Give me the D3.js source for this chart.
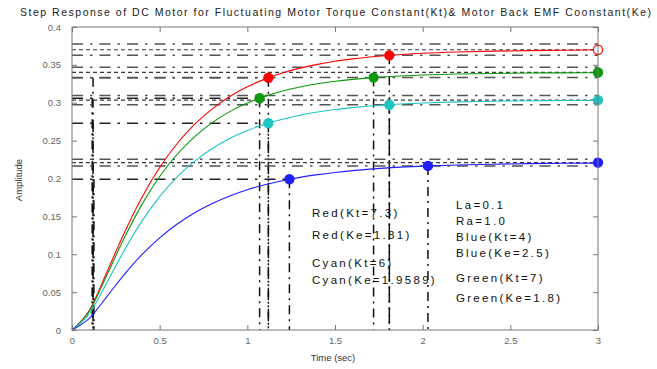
<!DOCTYPE html>
<html>
<head>
<meta charset="utf-8">
<script src="https://cdn.jsdelivr.net/npm/d3@7"></script>
<style>
  body { margin: 0; background: #fff; }
  text { font-family: "Liberation Sans", Arial, sans-serif; }
</style>
</head>
<body>
<div id="chart"></div>
<script>
// time samples (sec) and step response of each motor setting
var time = [0, 0.1, 0.2, 0.3, 0.4, 0.5, 0.6, 0.7, 0.8, 0.9, 1.0, 1.1, 1.2, 1.3, 1.4, 1.5,
  1.6, 1.7, 1.8, 1.9, 2.0, 2.2, 2.4, 2.6, 2.8, 3.0];
var redResp = [0, 0.0265, 0.0769, 0.1291, 0.1756, 0.2145, 0.2462, 0.2717, 0.2920, 0.3082, 0.3210,
  0.3312, 0.3393, 0.3457, 0.3507, 0.3548, 0.3579, 0.3604, 0.3624, 0.3640, 0.3653, 0.3670, 0.3681,
  0.3688, 0.3693, 0.3697];
var greenResp = [0, 0.0251, 0.0730, 0.1224, 0.1662, 0.2026, 0.2320, 0.2554, 0.2738, 0.2883, 0.2996,
  0.3084, 0.3154, 0.3208, 0.3250, 0.3283, 0.3309, 0.3329, 0.3344, 0.3357, 0.3366, 0.3379, 0.3387,
  0.3392, 0.3395, 0.3397];
var cyanResp = [0, 0.0218, 0.0631, 0.1059, 0.1440, 0.1760, 0.2020, 0.2229, 0.2396, 0.2528, 0.2633,
  0.2717, 0.2783, 0.2836, 0.2877, 0.2910, 0.2936, 0.2957, 0.2973, 0.2986, 0.2996, 0.3011, 0.3020,
  0.3026, 0.3029, 0.3031];
var blueResp = [0, 0.0156, 0.0445, 0.0738, 0.0998, 0.1217, 0.1399, 0.1548, 0.1670, 0.1770, 0.1851,
  0.1917, 0.1971, 0.2015, 0.2051, 0.2080, 0.2104, 0.2124, 0.2140, 0.2153, 0.2163, 0.2179, 0.2189,
  0.2196, 0.2201, 0.2204];

// characteristics, in order red, green, cyan, blue
var seriesNames = ["red", "green", "cyan", "blue"];
var finalValue = [0.370, 0.340, 0.3035, 0.221];
var bandHigh = [0.3774, 0.3468, 0.3096, 0.2254];
var startTime = [0.12, 0.115, 0.12, 0.125];
var riseTime = [1.12, 1.07, 1.12, 1.24];
var riseValue = [0.333, 0.306, 0.273, 0.199];
var settleTime = [1.81, 1.72, 1.81, 2.03];
var settleValue = [0.3626, 0.3332, 0.2974, 0.2166];

var xTicks = [0, 0.5, 1, 1.5, 2, 2.5, 3];
var xTickLabels = ["0", "0.5", "1", "1.5", "2", "2.5", "3"];
var yTicks = [0, 0.05, 0.1, 0.15, 0.2, 0.25, 0.3, 0.35, 0.4];
var yTickLabels = ["0", "0.05", "0.1", "0.15", "0.2", "0.25", "0.3", "0.35", "0.4"];

var notesLeft = ["Red(Kt=7.3)", "Red(Ke=1.81)", "Cyan(Kt=6)", "Cyan(Ke=1.9589)"];
var notesRight = ["La=0.1", "Ra=1.0", "Blue(Kt=4)", "Blue(Ke=2.5)", "Green(Kt=7)", "Green(Ke=1.8)"];

var colors = {red: "#ff0000", green: "#0a9a0a", cyan: "#1ec4c4", blue: "#1f1fff"};

var svgWidth = 657, svgHeight = 369;
var margin = {top: 27, right: 59, bottom: 39, left: 72};
var width = svgWidth - margin.left - margin.right;
var height = svgHeight - margin.top - margin.bottom;

var svg = d3.select("#chart").append("svg")
  .attr("width", svgWidth)
  .attr("height", svgHeight);

var g = svg.append("g")
  .attr("transform", "translate(" + margin.left + "," + margin.top + ")");

var x = d3.scaleLinear().domain([0, 3]).range([0, width]);
var y = d3.scaleLinear().domain([0, 0.4]).range([height, 0]);

// characteristic lines
var lines = g.append("g").attr("fill", "none");
var dashDot = "11,7,2.5,7";

seriesNames.forEach(function(name, i) {
  // settling band and steady state across full width
  [bandHigh[i], settleValue[i]].forEach(function(v) {
    lines.append("line")
      .attr("x1", x(0)).attr("x2", x(3))
      .attr("y1", y(v)).attr("y2", y(v))
      .attr("stroke", "#555").attr("stroke-width", 1.5)
      .attr("stroke-dasharray", dashDot);
  });
  lines.append("line")
    .attr("x1", x(0)).attr("x2", x(3))
    .attr("y1", y(finalValue[i])).attr("y2", y(finalValue[i]))
    .attr("stroke", "#3a3a3a").attr("stroke-width", 1.2)
    .attr("stroke-dasharray", "4,3");

  // rise time
  lines.append("line")
    .attr("x1", x(0)).attr("x2", x(riseTime[i]))
    .attr("y1", y(riseValue[i])).attr("y2", y(riseValue[i]))
    .attr("stroke", "#222").attr("stroke-width", 1.4)
    .attr("stroke-dasharray", dashDot);
  [startTime[i], riseTime[i]].forEach(function(t) {
    lines.append("line")
      .attr("x1", x(t)).attr("x2", x(t))
      .attr("y1", y(riseValue[i])).attr("y2", y(0))
      .attr("stroke", "#111").attr("stroke-width", 1.5)
      .attr("stroke-dasharray", "9,5,2,5");
  });

  // settling time
  lines.append("line")
    .attr("x1", x(settleTime[i])).attr("x2", x(settleTime[i]))
    .attr("y1", y(settleValue[i])).attr("y2", y(0))
    .attr("stroke", "#111").attr("stroke-width", 1.5)
    .attr("stroke-dasharray", "9,5,2,5");
});

// response curves
var line = d3.line()
  .x(function(d) { return x(d[0]); })
  .y(function(d) { return y(d[1]); })
  .curve(d3.curveMonotoneX);

var responses = [redResp, greenResp, cyanResp, blueResp];
responses.forEach(function(resp, i) {
  g.append("path")
    .datum(time.map(function(t, k) { return [t, resp[k]]; }))
    .attr("fill", "none")
    .attr("stroke", colors[seriesNames[i]])
    .attr("stroke-width", 1.1)
    .attr("d", line);
});

// markers
seriesNames.forEach(function(name, i) {
  var pts = [[riseTime[i], riseValue[i], true], [settleTime[i], settleValue[i], true],
    [3, finalValue[i], name !== "red"]];
  pts.forEach(function(p) {
    g.append("circle")
      .attr("cx", x(p[0])).attr("cy", y(p[1]))
      .attr("r", 4.6)
      .attr("fill", p[2] ? colors[name] : "#fff")
      .attr("stroke", colors[name])
      .attr("stroke-width", 1.2);
  });
});

// frame and axes
g.append("rect")
  .attr("width", width).attr("height", height)
  .attr("fill", "none").attr("stroke", "#777").attr("stroke-width", 1);

function styleAxis(sel) {
  sel.select(".domain").remove();
  sel.selectAll("line").attr("stroke", "#777");
  sel.selectAll("text")
    .attr("fill", "#666")
    .style("font-size", "9.5px");
}

g.append("g")
  .attr("transform", "translate(0," + height + ")")
  .call(d3.axisBottom(x).tickValues(xTicks).tickSizeInner(-5).tickSizeOuter(0).tickPadding(7)
    .tickFormat(function(d, i) { return xTickLabels[i]; }))
  .call(styleAxis);

g.append("g")
  .call(d3.axisTop(x).tickValues(xTicks).tickSizeInner(-5).tickSizeOuter(0).tickFormat(""))
  .call(styleAxis);

g.append("g")
  .call(d3.axisLeft(y).tickValues(yTicks).tickSizeInner(-5).tickSizeOuter(0).tickPadding(11)
    .tickFormat(function(d, i) { return yTickLabels[i]; }))
  .call(styleAxis);

g.append("g")
  .attr("transform", "translate(" + width + ",0)")
  .call(d3.axisRight(y).tickValues(yTicks).tickSizeInner(-5).tickSizeOuter(0).tickFormat(""))
  .call(styleAxis);

// titles
svg.append("text")
  .attr("x", 20).attr("y", 16)
  .attr("textLength", 631).attr("lengthAdjust", "spacing")
  .attr("fill", "#222")
  .style("font-size", "10.5px")
  .text("Step Response of DC Motor for Fluctuating Motor Torque Constant(Kt)& Motor Back EMF Coonstant(Ke)");

svg.append("text")
  .attr("transform", "translate(22,180) rotate(-90)")
  .attr("text-anchor", "middle")
  .attr("fill", "#333")
  .style("font-size", "9.5px")
  .text("Amplitude");

svg.append("text")
  .attr("x", 333).attr("y", 361)
  .attr("text-anchor", "middle")
  .attr("fill", "#333")
  .style("font-size", "9.5px")
  .text("Time (sec)");

// parameter notes
var leftY = [217, 239, 267, 284];
var rightY = [209, 225, 241, 257, 282, 302];
var notes = svg.append("g").attr("fill", "#111").style("font-size", "11.5px")
  .style("letter-spacing", "2.3px");
notesLeft.forEach(function(t, i) {
  notes.append("text").attr("x", 312).attr("y", leftY[i]).text(t);
});
notesRight.forEach(function(t, i) {
  notes.append("text").attr("x", 456).attr("y", rightY[i]).text(t);
});
</script>
</body>
</html>
